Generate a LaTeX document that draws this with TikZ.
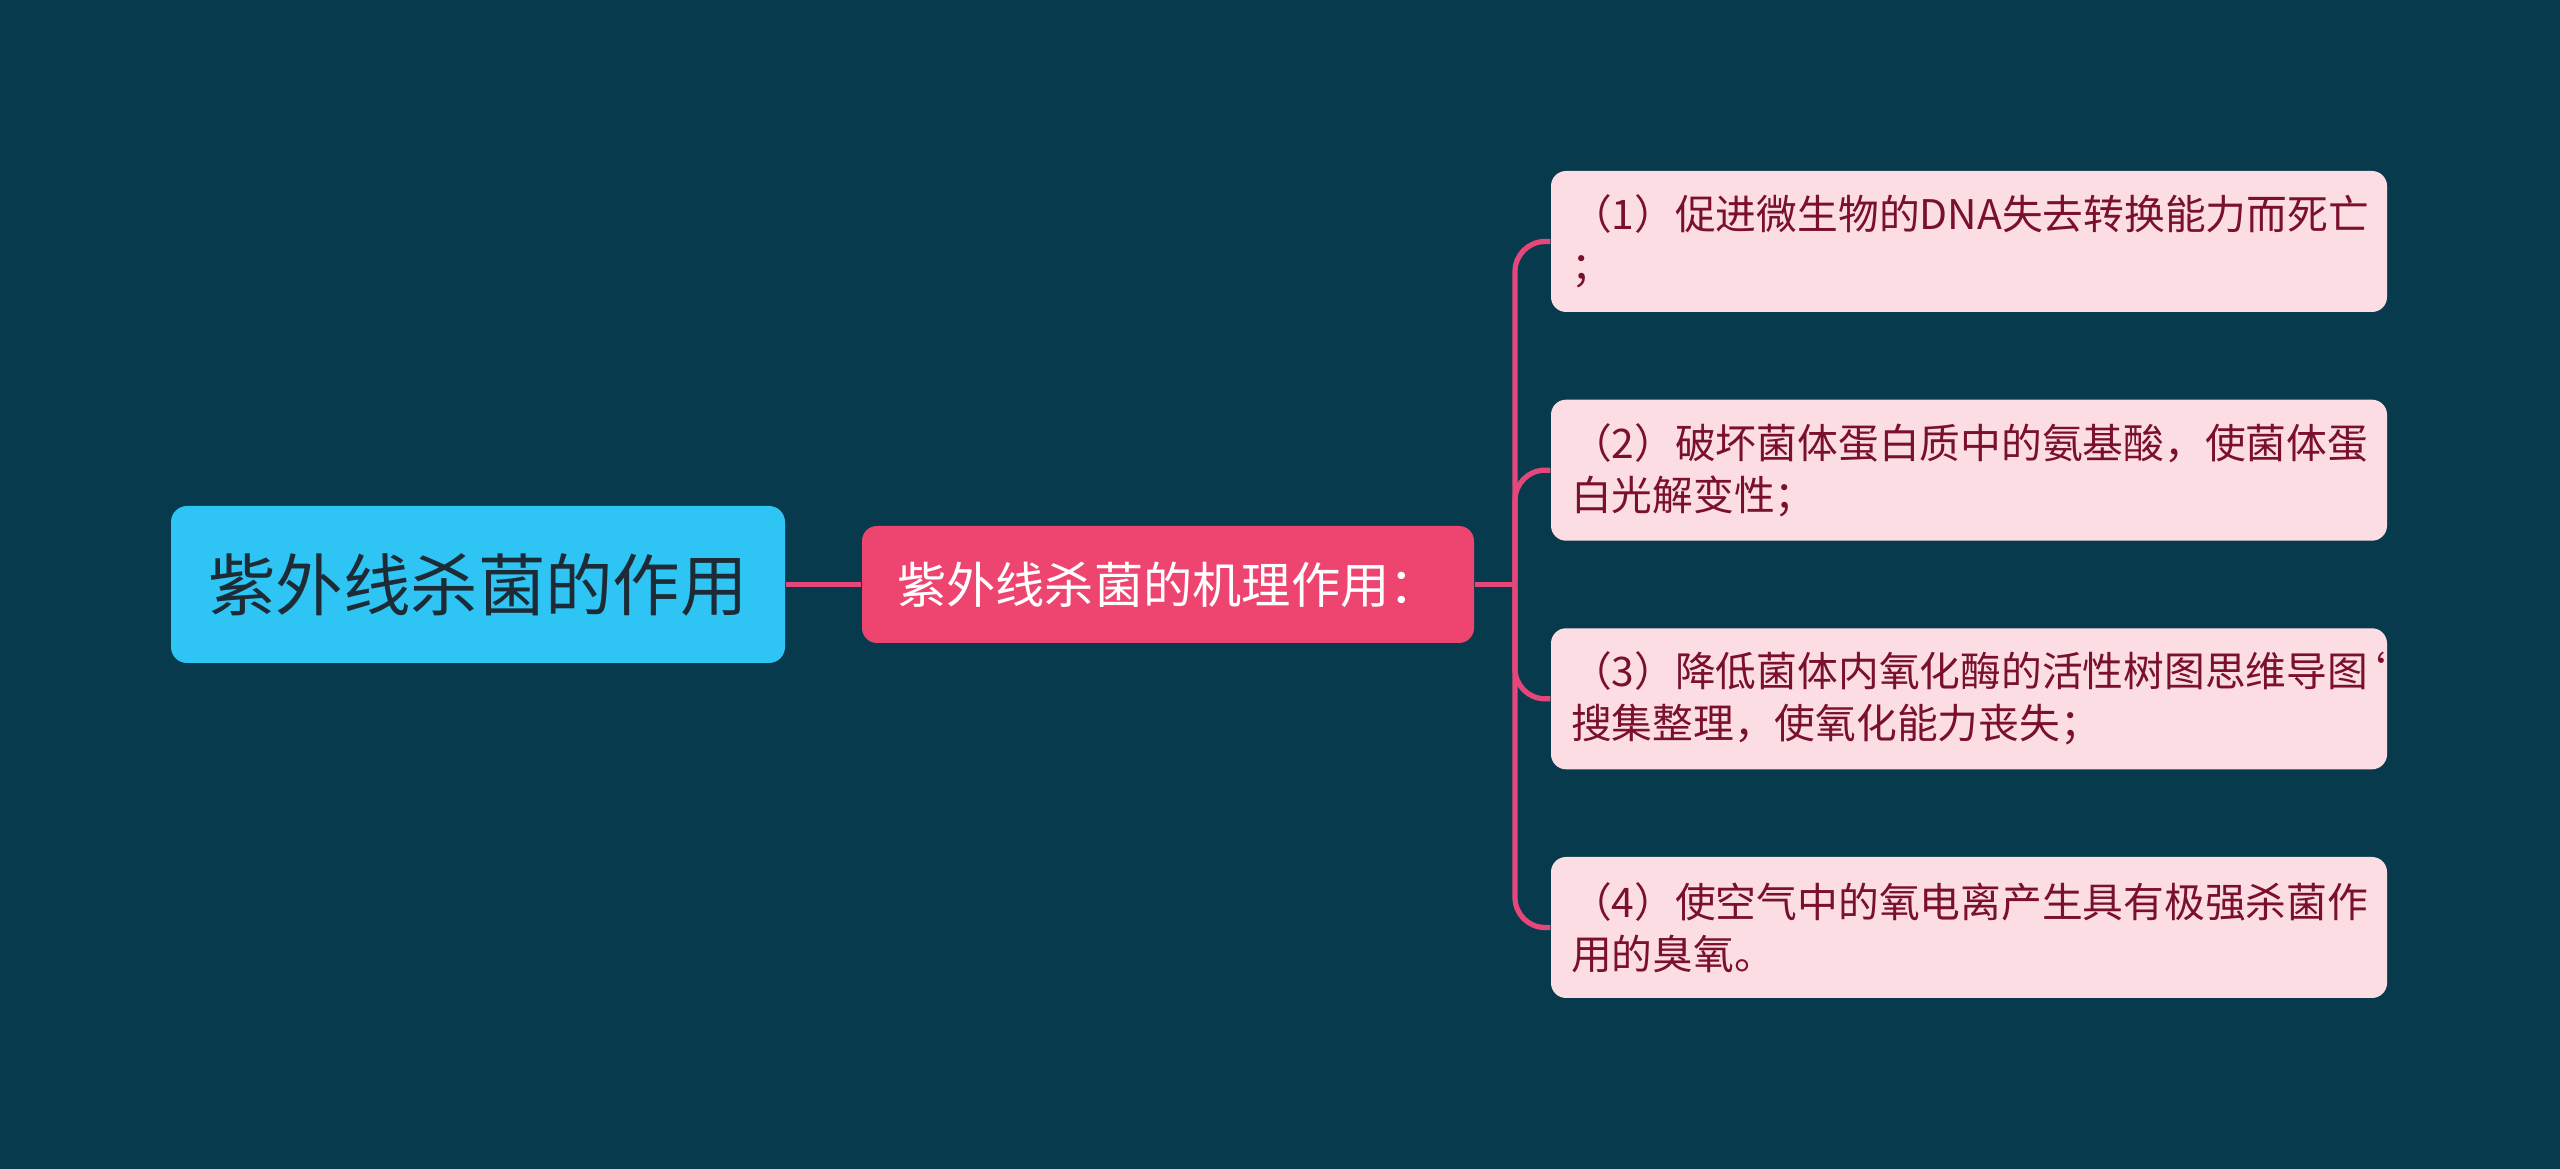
\documentclass[tikz,border=0pt]{standalone}
\usepackage{fontspec}
\setmainfont{Noto Sans CJK SC}
\usepackage{tikz}
\usetikzlibrary{calc}
\usetikzlibrary{positioning}
\definecolor{bgcol}{HTML}{083A4D}
\definecolor{rootcol}{HTML}{2EC4F3}
\definecolor{roottxt}{HTML}{1C2B36}
\definecolor{midcol}{HTML}{EE4570}
\definecolor{leafcol}{HTML}{FBDDE3}
\definecolor{leaftxt}{HTML}{7A0F2E}
\definecolor{linkcol}{HTML}{E5477A}
\tikzset{root/.style={rectangle,rounded corners=0.16cm,fill=rootcol,text=roottxt,minimum width=6.14cm,minimum height=1.57cm,inner sep=0pt,font=\fontsize{19.2pt}{23pt}\selectfont}}
\tikzset{mid/.style={rectangle,rounded corners=0.15cm,fill=midcol,text=white,minimum width=6.12cm,minimum height=1.17cm,inner sep=0pt,font=\fontsize{14pt}{17pt}\selectfont}}
\tikzset{leaf/.style={rectangle,rounded corners=0.15cm,fill=leafcol,text=leaftxt,text width=7.96cm,align=left,inner xsep=0.2cm,minimum height=1.41cm,font=\fontsize{11.6pt}{14.8pt}\selectfont}}
\tikzset{link/.style={draw=linkcol,line width=1.5pt}}

\begin{document}
\begin{tikzpicture}

\fill[bgcol] (0,0) rectangle (25.6,11.69);

\node[root] (R) at (4.78,5.845) {紫外线杀菌的作用};
\node[mid] (M) at (11.68,5.845) {紫外线杀菌的机理作用：};

\draw[link] (R) -- (M);

% leaves

\node[leaf] (L1) at (19.69,9.275) {（1）促进微生物的DNA失去转换能力而死亡\\；};
\node[leaf] (L2) at (19.69,6.988) {（2）破坏菌体蛋白质中的氨基酸，使菌体蛋\\白光解变性；};
\node[leaf] (L3) at (19.69,4.702) {（3）降低菌体内氧化酶的活性树图思维导图\rlap{\kern-0.55em\symbol{96}}\\搜集整理，使氧化能力丧失；};
\node[leaf] (L4) at (19.69,2.415) {（4）使空气中的氧电离产生具有极强杀菌作\\用的臭氧。};

\coordinate (J) at (15.15,5.845);
\draw[link] (M) -- (J);

\foreach \l in {L1,L2,L3,L4}
  \draw[link,rounded corners=0.3cm] (J) |- (\l.west);

\end{tikzpicture}
\end{document}
